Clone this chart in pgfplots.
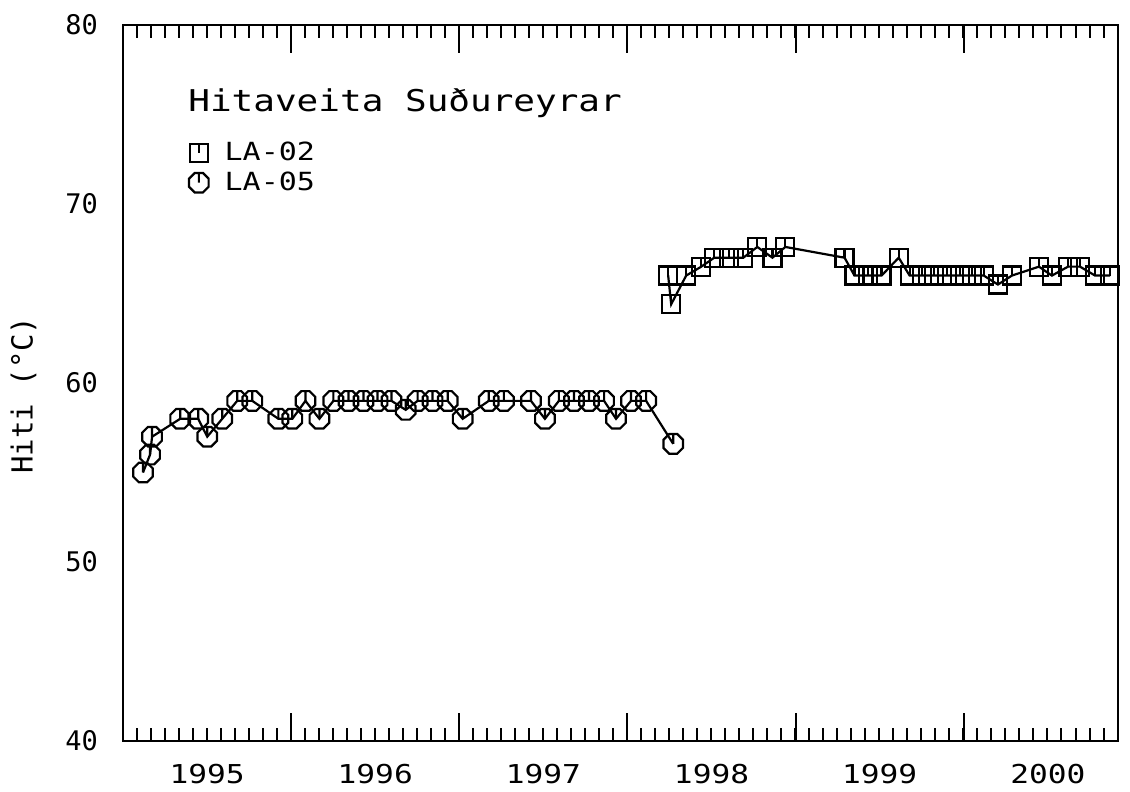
\documentclass[border=0pt]{standalone}
\usepackage{fontspec}
\setmainfont{DejaVu Sans Mono}[FakeStretch=1.2]
\newfontfamily\plainmono{DejaVu Sans Mono}
\usepackage{pgfplots}
\usepackage{pgfplotstable}
\pgfplotsset{compat=1.18}

\pgfdeclareplotmark{sqt}{%
  \pgfpathrectangle{\pgfqpoint{-\pgfplotmarksize}{-\pgfplotmarksize}}{\pgfqpoint{2\pgfplotmarksize}{2\pgfplotmarksize}}%
  \pgfpathmoveto{\pgfqpoint{0pt}{\pgfplotmarksize}}%
  \pgfpathlineto{\pgfqpoint{0pt}{0pt}}%
  \pgfusepathqstroke}
\pgfdeclareplotmark{oct}{%
  \pgfpathmoveto{\pgfpointpolar{22.5}{\pgfplotmarksize}}%
  \pgfpathlineto{\pgfpointpolar{67.5}{\pgfplotmarksize}}%
  \pgfpathlineto{\pgfpointpolar{112.5}{\pgfplotmarksize}}%
  \pgfpathlineto{\pgfpointpolar{157.5}{\pgfplotmarksize}}%
  \pgfpathlineto{\pgfpointpolar{202.5}{\pgfplotmarksize}}%
  \pgfpathlineto{\pgfpointpolar{247.5}{\pgfplotmarksize}}%
  \pgfpathlineto{\pgfpointpolar{292.5}{\pgfplotmarksize}}%
  \pgfpathlineto{\pgfpointpolar{337.5}{\pgfplotmarksize}}%
  \pgfpathclose
  \pgfpathmoveto{\pgfqpoint{0pt}{0.924\pgfplotmarksize}}%
  \pgfpathlineto{\pgfqpoint{0pt}{0pt}}%
  \pgfusepathqstroke}

\pgfplotstableread{
x y
1995.119 55
1995.161 56
1995.173 57
1995.340 58
1995.447 58
1995.501 57
1995.590 58
1995.679 59
1995.769 59
1995.924 58
1996.007 58
1996.085 59
1996.168 58
1996.251 59
1996.341 59
1996.430 59
1996.514 59
1996.597 59
1996.681 58.5
1996.752 59
1996.841 59
1996.931 59
1997.020 58
1997.175 59
1997.265 59
1997.426 59
1997.509 58
1997.592 59
1997.682 59
1997.771 59
1997.861 59
1997.932 58
1998.021 59
1998.111 59
1998.272 56.6
}\laofive

\pgfplotstableread{
x y
1998.242 66
1998.260 64.4
1998.349 66
1998.439 66.5
1998.516 67
1998.605 67
1998.689 67
1998.772 67.6
1998.862 67
1998.939 67.6
1999.291 67
1999.350 66
1999.428 66
1999.511 66
1999.613 67
1999.678 66
1999.750 66
1999.821 66
1999.899 66
1999.976 66
2000.048 66
2000.119 66
2000.203 65.5
2000.286 66
2000.447 66.5
2000.524 66
2000.620 66.5
2000.691 66.5
2000.781 66
2000.870 66
}\laotwo

\begin{document}
\begin{tikzpicture}
\begin{axis}[
  at={(0,0)}, anchor=south west,
  scale only axis, width=497.5pt, height=358pt,
  xmin=1995, xmax=2000.917, ymin=40, ymax=80,
  axis line style={line width=1.1pt},
  tick align=inside,
  every tick/.style={black, line width=1pt},
  major tick length=14pt, minor tick length=6.5pt,
  xtick={1996,1997,1998,1999,2000}, xticklabels={},
  minor xtick={1995.0833333,1995.1666667,...,2000.92},
  extra x ticks={1995.5,1996.5,1997.5,1998.5,1999.5,2000.5},
  extra x tick labels={1995,1996,1997,1998,1999,2000},
  extra x tick style={major tick length=0pt, xticklabel style={yshift=-8pt, font=\fontsize{13}{15}\selectfont}},
  ytick=\empty,
  minor ytick={45,50,55,60,65,70,75},
  extra y ticks={40,50,60,70,80},
  extra y tick labels={40,50,60,70,80},
  extra y tick style={major tick length=0pt, yticklabel style={xshift=-9pt, font=\plainmono\fontsize{13.5}{15}\selectfont}},
  ylabel={Hiti (°C)},
  ylabel style={at={(axis description cs:-0.1,0.483)}, anchor=center, font=\plainmono\fontsize{14.5}{16}\selectfont},
  legend style={draw=none, fill=none, at={(rel axis cs:0.066,0.8394)}, anchor=north west, inner sep=0pt, row sep=2pt, column sep=7pt,
    nodes={inner sep=1pt}, font=\fontsize{12.5}{14}\selectfont},
  legend cell align=left,
]
\addplot[black, line width=1.1pt, mark=sqt, mark size=4.5pt, mark options={line width=1.1pt}, forget plot] table[x=x,y=y] {\laotwo};
\addplot[black, line width=1.1pt, mark=oct, mark size=5.3pt, mark options={line width=1.1pt}, forget plot] table[x=x,y=y] {\laofive};
\addlegendimage{only marks, black, mark=sqt, mark size=4.5pt, mark options={line width=1.1pt}}
\addlegendentry{LA-02}
\addlegendimage{only marks, black, mark=oct, mark size=5.3pt, mark options={line width=1.1pt}}
\addlegendentry{LA-05}
\node[anchor=base west, font=\fontsize{15}{17}\selectfont, inner sep=0pt] at (rel axis cs:0.0653,0.8785) {Hitaveita Suðureyrar};
\end{axis}
\pgfresetboundingbox
\path[use as bounding box] (-61.5pt,-25.5pt) rectangle (503.5pt,370.5pt);
\end{tikzpicture}
\end{document}
